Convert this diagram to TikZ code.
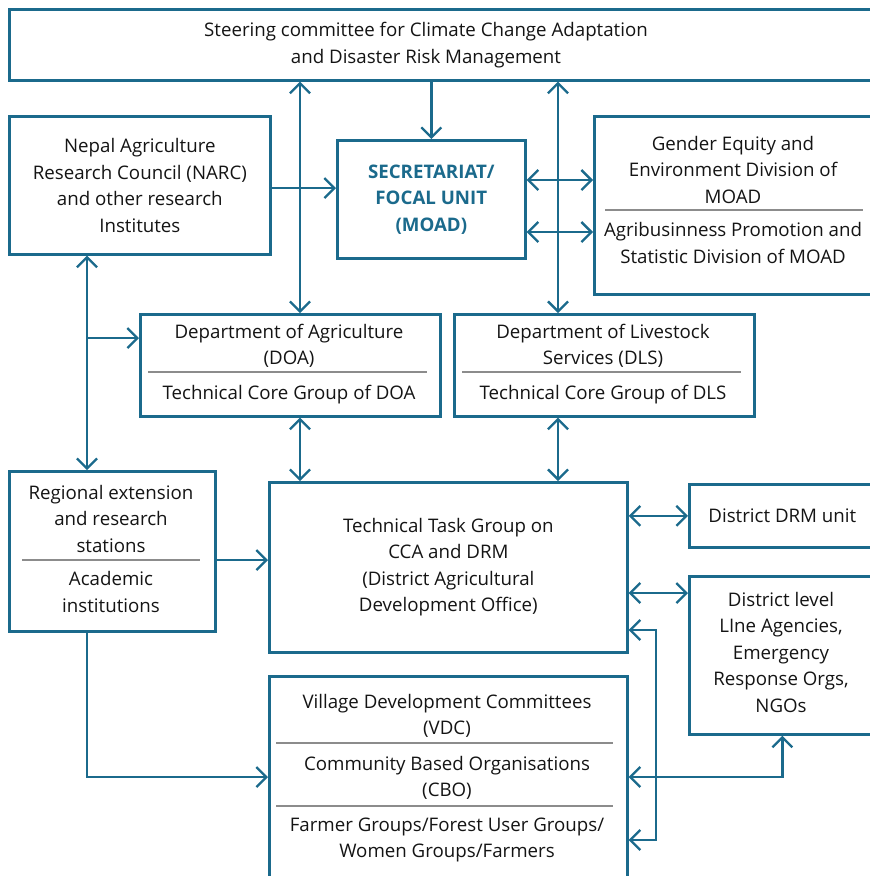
\documentclass[tikz,border=0pt]{standalone}
\usepackage{fontspec}
\setmainfont{Open Sans}
\usetikzlibrary{arrows.meta}
\definecolor{moadblue}{HTML}{1B6A8C}
\definecolor{rulegray}{HTML}{8C8C8C}
\begin{document}
\begin{tikzpicture}[x=1pt, y=-1pt,
    box/.style={draw=moadblue, line width=2.7pt, anchor=north west, inner sep=0pt,
      align=center, font=\fontsize{18.7}{26.5}\selectfont, text=black!92},
    lbl/.style={align=center, font=\fontsize{18.7}{26.5}\selectfont, text=black!92, inner sep=0pt},
    sep/.style={draw=rulegray, line width=1.2pt},
    >={Straight Barb[length=10pt,width=20pt]}]
  \useasboundingbox (0,0) rectangle (870,876);
  \clip (0,0) rectangle (870,876);
  \draw
    (8,8) node[box, minimum width=880pt, minimum height=71pt] (steer){}
    (8,115) node[box, minimum width=261pt, minimum height=138pt] (narc){Nepal Agriculture\\Research Council (NARC)\\and other research\\Institutes}
    (336,139) node[box, minimum width=188pt, minimum height=118pt, text=moadblue, font=\fontsize{18.7}{26.5}\selectfont\bfseries] (secr){SECRETARIAT/\\FOCAL UNIT\\(MOAD)}
    (593,115) node[box, minimum width=280pt, minimum height=178pt] (gender){}
    (139,313) node[box, minimum width=300pt, minimum height=102pt] (doa){}
    (453,313) node[box, minimum width=300pt, minimum height=102pt] (dls){}
    (8,470) node[box, minimum width=206pt, minimum height=160pt] (regional){}
    (268,481) node[box, minimum width=358pt, minimum height=170pt] (ttg){Technical Task Group on\\CCA and DRM\\(District Agricultural\\Development Office)}
    (688,483) node[box, minimum width=186pt, minimum height=63pt] (drm){District DRM unit}
    (688,575) node[box, minimum width=186pt, minimum height=158pt] (dline){}
    (268,675) node[box, minimum width=358pt, minimum height=220pt] (vdc){};
  \draw
    (426,45) node[lbl] (steertxt){Steering committee for Climate Change Adaptation\\and Disaster Risk Management}
    (733,169.5) node[lbl] (gendertxt){Gender Equity and\\Environment Division of\\MOAD}
    (733,243) node[lbl] (agritxt){Agribusinness Promotion and\\Statistic Division of MOAD}
    (289,346) node[lbl] (doatxt){Department of Agriculture\\(DOA)}
    (289,394.5) node[lbl] (doacore){Technical Core Group of DOA}
    (603,346) node[lbl] (dlstxt){Department of Livestock\\Services (DLS)}
    (603,394.5) node[lbl] (dlscore){Technical Core Group of DLS}
    (781,652) node[lbl] (dlinetxt){District level\\LIne Agencies,\\Emergency\\Response Orgs,\\NGOs}
    (111,518.5) node[lbl] (regtxt){Regional extension\\and research\\stations}
    (111,592) node[lbl] (acadtxt){Academic\\institutions}
    (447,716) node[lbl] (vdctxt){Village Development Committees\\(VDC)}
    (447,778) node[lbl] (cbotxt){Community Based Organisations\\(CBO)}
    (447,840) node[lbl] (farmtxt){Farmer Groups/Forest User Groups/\\Women Groups/Farmers};
  \draw[sep] (605,210) -- (863,210);
  \draw[sep] (148,372) -- (427,372);
  \draw[sep] (462,372) -- (741,372);
  \draw[sep] (22,560) -- (200,560);
  \draw[sep] (276,743) -- (613,743);
  \draw[sep] (276,806) -- (613,806);
  \coordinate (colF) at (87,0);
  \coordinate (colL) at (300,0);
  \coordinate (colR) at (558,0);
  \coordinate (rowN) at (0,188);
  \coordinate (rowG) at (0,180);
  \coordinate (rowA) at (0,232);
  \coordinate (fork) at (87,338);
  \coordinate (rowR) at (0,560);
  \coordinate (rowT) at (0,593);
  \coordinate (rowV) at (0,777);
  \coordinate (brk) at (656,630);
  \coordinate (brkb) at (656,840);
  \begin{scope}[draw=moadblue, line width=2.3pt]
    \draw[->] (steer.south -| secr) to (secr.north);
    \draw[<->] (steer.south -| colL) to (doa.north -| colL);
    \draw[<->] (steer.south -| colR) to (dls.north -| colR);
    \draw[->] (narc.east |- rowN) to (secr.west |- rowN);
    \draw[<->] (secr.east |- rowG) to (gender.west |- rowG);
    \draw[<->] (secr.east |- rowA) to (gender.west |- rowA);
    \draw[<->] (narc.south -| colF) to (regional.north -| colF);
    \draw[->] (fork) to (fork -| doa.west);
    \draw[<->] (doa.south -| colL) to (ttg.north -| colL);
    \draw[<->] (dls.south -| colR) to (ttg.north -| colR);
    \draw[->] (regional.east |- rowR) to (ttg.west |- rowR);
    \draw[<->] (ttg.east |- drm.west) to (drm.west);
    \draw[<->] (ttg.east |- rowT) to (dline.west |- rowT);
    \draw[->] (regional.south -| colF) |- (vdc.west |- rowV);
    \draw[<->] (ttg.east |- brk) -- (brk) -- (brkb) -- (vdc.east |- brkb);
    \draw[<->] (vdc.east |- rowV) -| (dline.south);
  \end{scope}
\end{tikzpicture}
\end{document}
